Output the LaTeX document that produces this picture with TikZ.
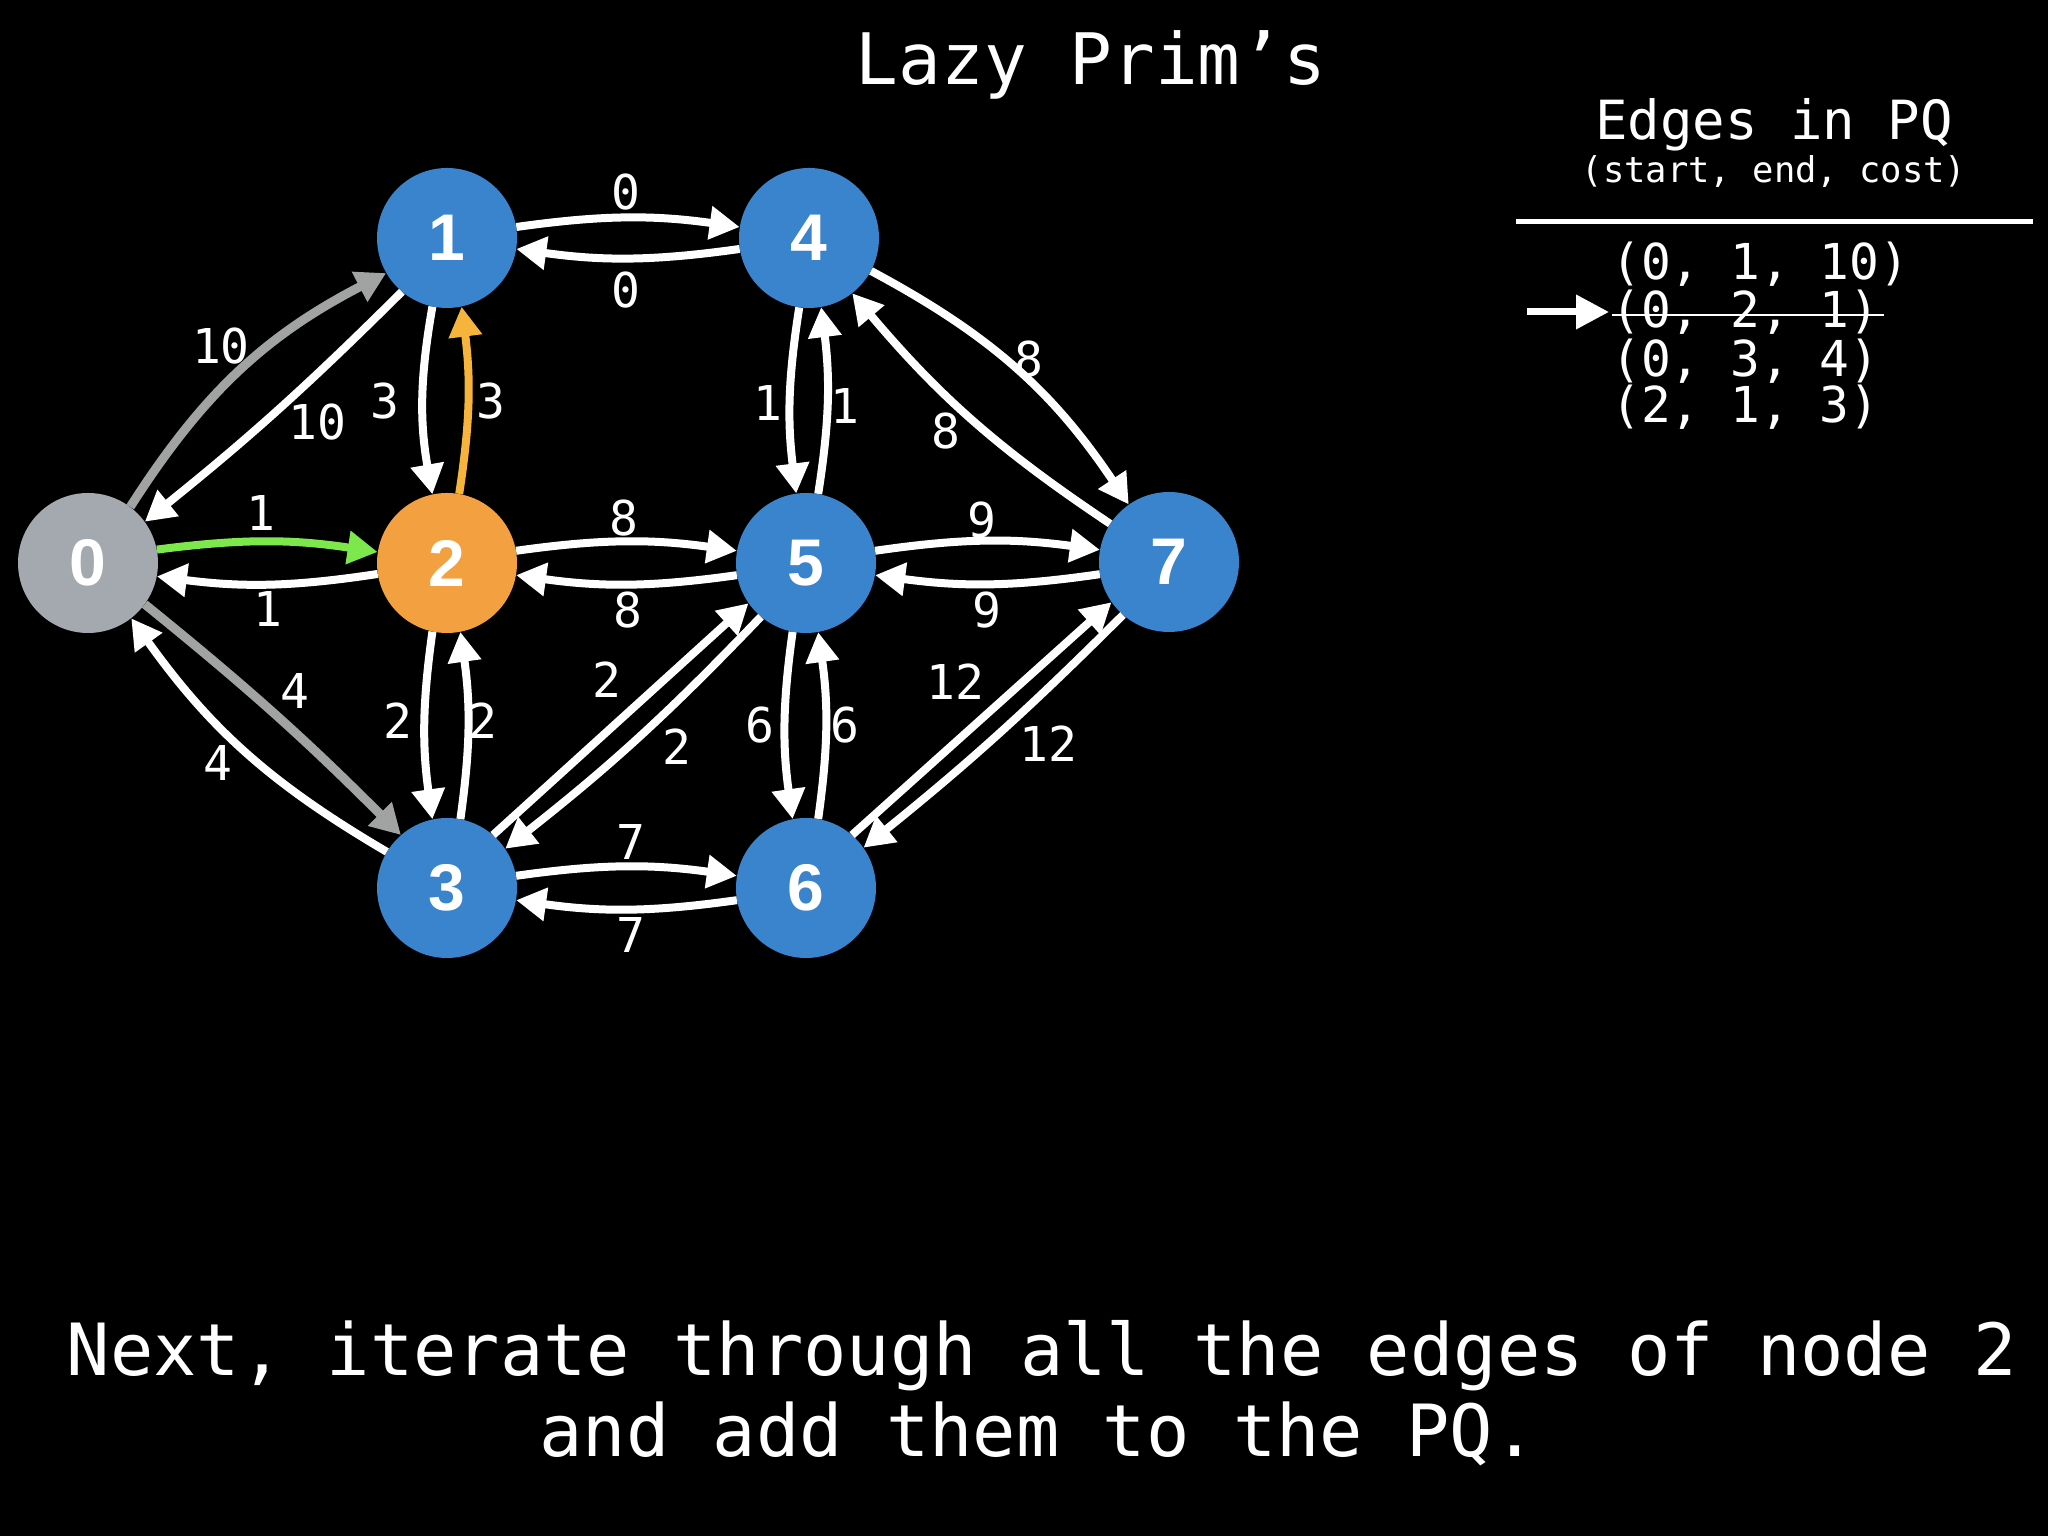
\documentclass[tikz,border=0pt]{standalone}
\usepackage{fontspec}
\setmainfont{DejaVu Sans Mono}
\newfontfamily\vtxfont{Liberation Sans}
\usetikzlibrary{arrows.meta}
\definecolor{nblue}{RGB}{58,131,205}
\definecolor{norange}{RGB}{243,160,64}
\definecolor{ngray}{RGB}{164,168,175}
\definecolor{egreen}{RGB}{125,232,75}
\definecolor{egray}{RGB}{160,163,162}
\definecolor{eorange}{RGB}{246,180,60}
\begin{document}
\begin{tikzpicture}[x=1pt,y=1pt,
  vtx/.style={circle, fill=nblue, minimum size=140pt, inner sep=0pt, text=white,
    font=\vtxfont\bfseries\fontsize{66}{66}\selectfont},
  e/.style={draw=white, line width=8pt, -{Triangle[length=30pt,width=32pt]}},
  lbl/.style={text=white, inner sep=0pt, font=\fontsize{48}{48}\selectfont},
  txt/.style={text=white, inner sep=0pt, anchor=base},
  strike/.style={draw=white, line width=2.5pt},
  pqarrow/.style={draw=white, line width=7pt, -{Triangle[length=33pt,width=33pt]}}
]
\fill[black] (0,0) rectangle (2048,1536);
\useasboundingbox (0,0) rectangle (2048,1536);

% vertices
\node[vtx, fill=ngray]   (n0) at (88,973)   {0};
\node[vtx]               (n1) at (447,1298) {1};
\node[vtx, fill=norange] (n2) at (447,973)  {2};
\node[vtx]               (n3) at (447,648)  {3};
\node[vtx]               (n4) at (809,1298) {4};
\node[vtx]               (n5) at (806,973)  {5};
\node[vtx]               (n6) at (806,648)  {6};
\node[vtx]               (n7) at (1169,974) {7};

% horizontal edges
\draw[e] (n1.9)   to[bend left=8] (n4.171);
\draw[e] (n4.189) to[bend left=8] (n1.-9);
\draw[e, draw=egreen, -{Triangle[length=30pt,width=32pt,fill=egreen]}] (n0.11) to[bend left=8] (n2.171);
\draw[e] (n2.189) to[bend left=8] (n0.-11);
\draw[e] (n2.10)  to[bend left=8] (n5.170);
\draw[e] (n5.190) to[bend left=8] (n2.-10);
\draw[e] (n5.10)  to[bend left=8] (n7.170);
\draw[e] (n7.190) to[bend left=8] (n5.-10);
\draw[e] (n3.10)  to[bend left=8] (n6.170);
\draw[e] (n6.190) to[bend left=8] (n3.-10);

% vertical edges
\draw[e] (n1.258) to[bend right=10] (n2.102);
\draw[e, draw=eorange] (n2.80) to[bend right=8] (n1.282);
\draw[e] (n2.258) to[bend right=8] (n3.102);
\draw[e] (n3.79)  to[bend right=8] (n2.281);
\draw[e] (n4.262) to[bend right=8] (n5.98);
\draw[e] (n5.80)  to[bend right=8] (n4.280);
\draw[e] (n5.259) to[bend right=8] (n6.101);
\draw[e] (n6.80)  to[bend right=8] (n5.280);

% diagonal edges
\draw[e, draw=egray, line width=9pt] (n0.53) to[bend left=15] (n1.210);
\draw[e] (n1.230) to[bend left=3] (n0.36);
\draw[e, draw=egray, line width=9pt] (n0.-36) to[bend left=3] (n3.131);
\draw[e] (n3.149) to[bend left=12] (n0.-52);
\draw[e] (n3.49)  to (n5.215);
\draw[e] (n5.230) to[bend left=4] (n3.34);
\draw[e] (n4.-28) to[bend left=14] (n7.125);
\draw[e] (n7.147) to[bend left=8] (n4.-52);
\draw[e] (n6.49)  to (n7.215);
\draw[e] (n7.229) to[bend left=3] (n6.35);

% edge labels
\node[lbl] (l14) at (626,1344) {0};
\node[lbl] (l41) at (626,1246) {0};
\node[lbl] (l12) at (385,1135) {3};
\node[lbl] (l21) at (491,1135) {3};
\node[lbl] (l25) at (624,1018) {8};
\node[lbl] (l52) at (628,926)  {8};
\node[lbl] (l23) at (398,815)  {2};
\node[lbl] (l32) at (483,815)  {2};
\node[lbl] (l35) at (607,856)  {2};
\node[lbl] (l53) at (677,789)  {2};
\node[lbl] (l36) at (631,694)  {7};
\node[lbl] (l63) at (631,601)  {7};
\node[lbl] (l45) at (768,1133) {1};
\node[lbl] (l54) at (845,1130) {1};
\node[lbl] (l47) at (1029,1177) {8};
\node[lbl] (l74) at (946,1105) {8};
\node[lbl] (l57) at (982,1016) {9};
\node[lbl] (l75) at (987,926)  {9};
\node[lbl] (l56) at (760,811)  {6};
\node[lbl] (l65) at (845,811)  {6};
\node[lbl] (l67) at (955,854)  {12};
\node[lbl] (l76) at (1048,792) {12};
\node[lbl] (l01) at (221,1190) {10};
\node[lbl] (l10) at (317,1114) {10};
\node[lbl] (l02) at (261,1023) {1};
\node[lbl] (l20) at (268,927)  {1};
\node[lbl] (l03) at (295,845)  {4};
\node[lbl] (l30) at (218,773)  {4};

% title
\node[txt, font=\fontsize{71}{71}\selectfont] (title) at (1091,1451) {Lazy Prim’s};

% PQ panel
\node[txt, font=\fontsize{54}{54}\selectfont] (pqt) at (1774,1396) {Edges in PQ};
\node[txt, font=\fontsize{35.5}{35.5}\selectfont] (pqs) at (1774,1353) {(start, end, cost)};
\coordinate (hl) at (1516,1314);
\coordinate (hr) at (2033,1314);
\draw[draw=white, line width=5pt] (hl) -- (hr);
\node[txt, anchor=base west, font=\fontsize{49.5}{49.5}\selectfont] (e1) at (1611,1256) {(0, 1, 10)};
\node[txt, anchor=base west, font=\fontsize{49.5}{49.5}\selectfont] (e2) at (1611,1208) {(0, 2, 1)};
\node[txt, anchor=base west, font=\fontsize{49.5}{49.5}\selectfont] (e3) at (1611,1159) {(0, 3, 4)};
\node[txt, anchor=base west, font=\fontsize{49.5}{49.5}\selectfont] (e4) at (1611,1113) {(2, 1, 3)};
\draw[strike] ([shift={(1,13)}]e2.base west) -- ([shift={(273,13)}]e2.base west);
\coordinate (pqa) at (1527,1224);
\coordinate (pqb) at (1609,1224);
\draw[pqarrow] (pqa) -- (pqb);

% bottom caption
\node[txt, font=\fontsize{72}{72}\selectfont] (cap1) at (1042,160) {Next, iterate through all the edges of node 2};
\node[txt, font=\fontsize{72}{72}\selectfont] (cap2) at (1038,79) {and add them to the PQ.};
\end{tikzpicture}
\end{document}
